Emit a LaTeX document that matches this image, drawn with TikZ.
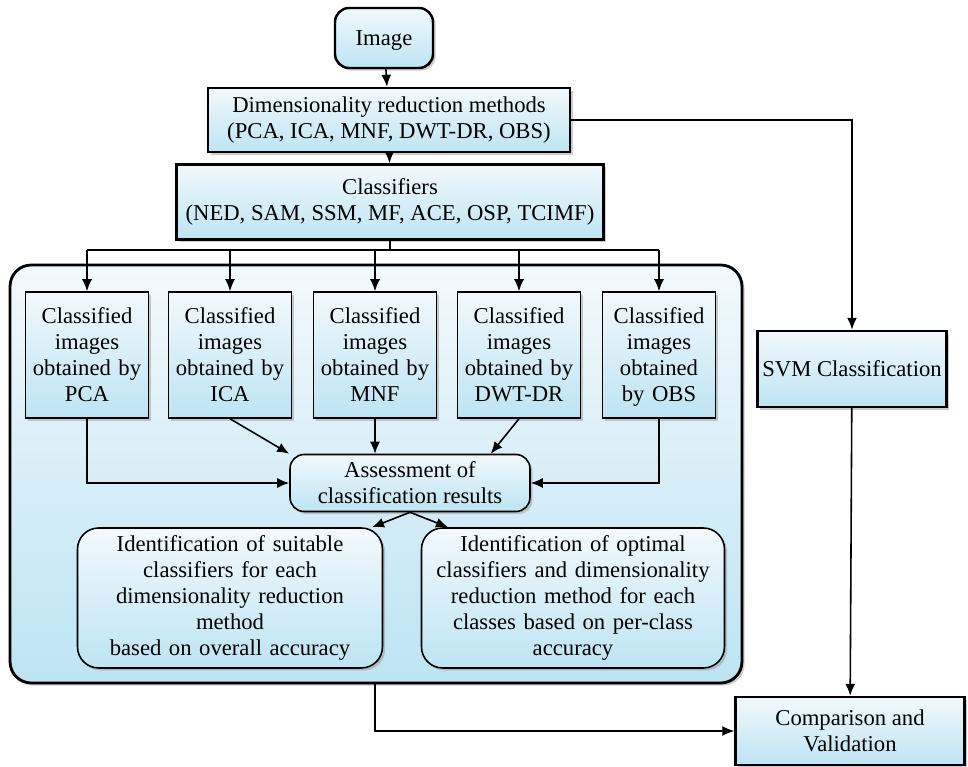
\documentclass[tikz,border=0pt]{standalone}
\usepackage{fontspec}
\setmainfont{Liberation Serif}
\usepackage{xcolor}
\usepackage{tikz}
\usetikzlibrary{arrows.meta,positioning,calc,shadows}
\definecolor{PaleTop}{HTML}{F2F9FC}
\definecolor{SkyBottom}{HTML}{BDE4F3}
\definecolor{ShadowGray}{HTML}{9A9A9A}

\begin{document}
\begin{tikzpicture}[x=0.02cm,y=-0.02cm,>={Latex[length=2.4mm,width=2mm]},
  font=\fontsize{12.9}{14.8}\selectfont,
  flowbox/.style={draw=black,line width=1.4pt,top color=PaleTop,bottom color=SkyBottom,align=center,inner sep=0pt,
    drop shadow={shadow xshift=1.5pt,shadow yshift=-1.5pt,fill=ShadowGray,opacity=.5}},
  roundbox/.style={flowbox,rounded corners=8pt},
  methodbox/.style={flowbox,line width=0.9pt,minimum width=2.46cm,minimum height=2.52cm,text width=2.4cm},
  stepline/.style={line width=0.9pt}]
\useasboundingbox (0,0) rectangle (968,767);
% container for the per-method results
\node[roundbox,line width=1.6pt,rounded corners=12pt,minimum width=14.64cm,minimum height=8.36cm] (panel) at (376,474) {};
% main chain
\node[roundbox,minimum width=1.96cm,minimum height=1.2cm,text depth=0pt] (img) at (384,38) {Image};
\node[flowbox,minimum width=7.24cm,minimum height=1.28cm] (dr) at (389,120) {Dimensionality reduction methods\\(PCA, ICA, MNF, DWT-DR, OBS)};
\node[flowbox,minimum width=8.54cm,minimum height=1.5cm] (cls) at (390,202) {Classifiers\\(NED, SAM, SSM, MF, ACE, OSP, TCIMF)};
% classified images
\node[methodbox] (pca) at (87,355) {Classified\\images\\obtained by\\PCA};
\node[methodbox] (ica) at (230,355) {Classified\\images\\obtained by\\ICA};
\node[methodbox] (mnf) at (375,355) {Classified\\images\\obtained by\\MNF};
\node[methodbox] (dwt) at (519,355) {Classified\\images\\obtained by\\DWT-DR};
\node[methodbox,minimum width=2.26cm,text width=2.2cm] (obs) at (659,355) {Classified\\images\\obtained\\\smash{by OBS}};
\node[roundbox,line width=0.9pt,minimum width=4.8cm,minimum height=1.14cm] (assess) at (410,483) {Assessment of\\classification results};
\node[roundbox,line width=0.9pt,rounded corners=12pt,minimum width=6.1cm,minimum height=2.8cm,text width=5.9cm] (suit) at (230,598)
  {Identification of suitable\\classifiers for each\\dimensionality reduction\\method\\based on overall accuracy};
\node[roundbox,line width=0.9pt,rounded corners=12pt,minimum width=6.06cm,minimum height=2.8cm,text width=5.9cm] (opt) at (573,598)
  {Identification of optimal\\classifiers and dimensionality\\reduction method for each\\classes based on per-class\\accuracy};
% SVM branch
\node[flowbox,minimum width=3.78cm,minimum height=1.52cm] (svm) at (852,369) {SVM Classification};
\node[flowbox,minimum width=4.58cm,minimum height=1.36cm] (cmp) at (850,731) {Comparison and\\Validation};
% connectors
\draw[stepline,->] (img) -- (dr);
\draw[stepline,->] (dr) -- (cls);
\coordinate (fork) at (cls.south |- 0,250);
\draw[stepline] (cls.south) -- (fork);
\draw[stepline] (pca.north |- fork) -- (obs.north |- fork);
\foreach \m in {pca,ica,mnf,dwt,obs} \draw[stepline,->] (\m.north |- fork) -- (\m.north);
\draw[stepline,->] (pca.south) |- (assess.west);
\draw[stepline,->] (ica.south) -- (assess.north west);
\draw[stepline,->] (mnf.south) -- (mnf.south |- assess.north);
\draw[stepline,->] (dwt.south) -- ($(assess.north east)+(-40,0)$);
\draw[stepline,->] (obs.south) |- (assess.east);
\draw[stepline,->] (assess.south) -- (suit.north -| 372,0);
\draw[stepline,->] (assess.south) -- (opt.north -| 448,0);
\draw[stepline,->] (dr.east) -| (svm.north);
\draw[stepline,->] (svm) -- (cmp);
\draw[stepline,->] (panel.south -| 375,0) |- (cmp.west);
\end{tikzpicture}
\end{document}
